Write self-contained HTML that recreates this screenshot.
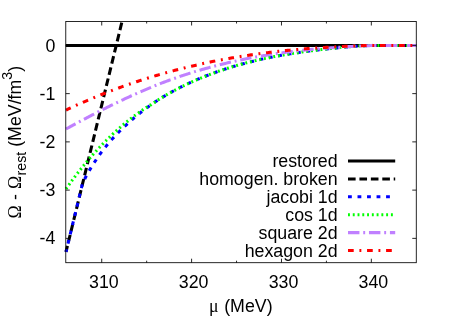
<!DOCTYPE html>
<html><head><meta charset="utf-8"><title>plot</title>
<style>
html,body{margin:0;padding:0;background:#fff;}
body{width:457px;height:320px;overflow:hidden;}
svg{display:block;will-change:transform;}
text{font-family:"Liberation Sans",sans-serif;font-size:17.78px;fill:#000;font-kerning:none;}
.sym{font-family:"Liberation Serif",serif;}
</style></head><body>
<svg width="457" height="320" viewBox="0 0 457 320">
<rect width="457" height="320" fill="#fff"/>
<defs><clipPath id="c"><rect x="65.78" y="21.5" width="350.5" height="241.2"/></clipPath></defs>
<g fill="none" stroke-width="3.05" stroke-linejoin="round">
<path d="M65.78,45.4 L416.28,45.4" stroke="#000" />
<path d="M66.00,251.87 L122.03,21.50" stroke="#000" stroke-dasharray="7.66,3.83" stroke-dashoffset="1.6"/>
<path d="M66.00,251.87 L82.50,183.40 L83.62,181.14 L84.73,178.94 L85.85,176.82 L86.97,174.76 L88.08,172.75 L89.20,170.79 L90.31,168.88 L91.43,167.02 L92.55,165.21 L93.66,163.44 L94.78,161.72 L95.90,160.04 L97.01,158.40 L98.13,156.80 L99.25,155.23 L100.36,153.70 L101.48,152.18 L102.59,150.69 L103.71,149.24 L104.83,147.81 L105.94,146.42 L107.06,145.05 L108.18,143.71 L109.29,142.40 L110.41,141.11 L111.53,139.84 L112.64,138.60 L113.76,137.38 L114.88,136.18 L115.99,134.99 L117.11,133.83 L118.22,132.68 L119.34,131.55 L120.46,130.43 L121.57,129.32 L122.69,128.23 L123.81,127.16 L124.92,126.09 L126.04,125.04 L127.16,124.01 L128.27,122.98 L129.39,121.97 L130.50,120.98 L131.62,119.99 L132.74,119.02 L133.85,118.06 L134.97,117.11 L136.09,116.18 L137.20,115.26 L138.32,114.35 L139.44,113.45 L140.55,112.56 L141.67,111.69 L142.78,110.82 L143.90,109.97 L145.02,109.13 L146.13,108.30 L147.25,107.48 L148.37,106.67 L149.48,105.87 L150.60,105.08 L151.72,104.30 L152.83,103.53 L153.95,102.78 L155.07,102.03 L156.18,101.29 L157.30,100.56 L158.41,99.84 L159.53,99.13 L160.65,98.43 L161.76,97.73 L162.88,97.05 L164.00,96.38 L165.11,95.71 L166.23,95.05 L167.35,94.40 L168.46,93.76 L169.58,93.13 L170.69,92.50 L171.81,91.88 L172.93,91.27 L174.04,90.67 L175.16,90.07 L176.28,89.48 L177.39,88.90 L178.51,88.32 L179.63,87.75 L180.74,87.19 L181.86,86.64 L182.97,86.09 L184.09,85.54 L185.21,85.00 L186.32,84.47 L187.44,83.95 L188.56,83.42 L189.67,82.91 L190.79,82.40 L191.91,81.89 L193.02,81.39 L194.14,80.90 L195.26,80.41 L196.37,79.93 L197.49,79.45 L198.60,78.97 L199.72,78.50 L200.84,78.04 L201.95,77.58 L203.07,77.12 L204.19,76.67 L205.30,76.23 L206.42,75.79 L207.54,75.35 L208.65,74.92 L209.77,74.50 L210.88,74.08 L212.00,73.66 L213.12,73.25 L214.23,72.84 L215.35,72.44 L216.47,72.04 L217.58,71.64 L218.70,71.25 L219.82,70.87 L220.93,70.49 L222.05,70.11 L223.16,69.74 L224.28,69.37 L225.40,69.00 L226.51,68.64 L227.63,68.29 L228.75,67.94 L229.86,67.59 L230.98,67.24 L232.10,66.90 L233.21,66.57 L234.33,66.24 L235.45,65.91 L236.56,65.58 L237.68,65.26 L238.79,64.95 L239.91,64.63 L241.03,64.32 L242.14,64.02 L243.26,63.72 L244.38,63.42 L245.49,63.12 L246.61,62.83 L247.73,62.54 L248.84,62.26 L249.96,61.98 L251.07,61.70 L252.19,61.42 L253.31,61.15 L254.42,60.89 L255.54,60.62 L256.66,60.36 L257.77,60.10 L258.89,59.85 L260.01,59.60 L261.12,59.35 L262.24,59.10 L263.35,58.86 L264.47,58.62 L265.59,58.38 L266.70,58.15 L267.82,57.92 L268.94,57.69 L270.05,57.46 L271.17,57.24 L272.29,57.02 L273.40,56.80 L274.52,56.59 L275.64,56.38 L276.75,56.17 L277.87,55.96 L278.98,55.75 L280.10,55.55 L281.22,55.35 L282.33,55.16 L283.45,54.96 L284.57,54.77 L285.68,54.58 L286.80,54.39 L287.92,54.20 L289.03,54.02 L290.15,53.84 L291.26,53.66 L292.38,53.48 L293.50,53.31 L294.61,53.14 L295.73,52.97 L296.85,52.80 L297.96,52.63 L299.08,52.46 L300.20,52.30 L301.31,52.14 L302.43,51.98 L303.54,51.82 L304.66,51.67 L305.78,51.51 L306.89,51.36 L308.01,51.21 L309.13,51.06 L310.24,50.91 L311.36,50.77 L312.48,50.62 L313.59,50.48 L314.71,50.34 L315.83,50.21 L316.94,50.07 L318.06,49.94 L319.17,49.80 L320.29,49.67 L321.41,49.55 L322.52,49.42 L323.64,49.29 L324.76,49.17 L325.87,49.05 L326.99,48.93 L328.11,48.81 L329.22,48.70 L330.34,48.59 L331.45,48.47 L332.57,48.36 L333.69,48.24 L334.80,48.13 L335.92,48.01 L337.04,47.90 L338.15,47.79 L339.27,47.68 L340.39,47.58 L341.50,47.47 L342.62,47.37 L343.73,47.27 L344.85,47.17 L345.97,47.08 L347.08,46.98 L348.20,46.89 L349.32,46.80 L350.43,46.71 L351.55,46.63 L352.67,46.54 L353.78,46.46 L354.90,46.38 L356.02,46.30 L357.13,46.22 L358.25,46.15 L359.36,46.07 L360.48,46.00 L361.60,45.93 L362.71,45.87 L363.83,45.80 L364.95,45.74 L366.06,45.68 L367.18,45.62 L368.30,45.56 L369.41,45.51 L370.53,45.45 L371.64,45.40 L372.76,45.40 L373.88,45.40 L374.99,45.40 L376.11,45.40 L377.23,45.40 L378.34,45.40 L379.46,45.40 L380.58,45.40 L381.69,45.40 L382.81,45.40 L383.92,45.40 L385.04,45.40 L386.16,45.40 L387.27,45.40 L388.39,45.40 L389.51,45.40 L390.62,45.40 L391.74,45.40 L392.86,45.40 L393.97,45.40 L395.09,45.40 L396.21,45.40 L397.32,45.40 L398.44,45.40 L399.55,45.40 L400.67,45.40 L401.79,45.40 L402.90,45.40 L404.02,45.40 L405.14,45.40 L406.25,45.40 L407.37,45.40 L408.49,45.40 L409.60,45.40 L410.72,45.40 L411.83,45.40 L412.95,45.40 L414.07,45.40 L415.18,45.40 L416.30,45.40" stroke="#0000ff" stroke-dasharray="3.81,5.71" stroke-dashoffset="1.0"/>
<path d="M66.00,188.89 L66.28,188.49 L66.56,188.10 L66.84,187.70 L67.12,187.30 L67.40,186.91 L67.69,186.51 L67.97,186.12 L68.25,185.73 L68.53,185.34 L68.81,184.95 L69.09,184.56 L69.37,184.17 L69.65,183.78 L69.93,183.39 L70.21,183.01 L70.49,182.62 L70.78,182.24 L71.06,181.86 L71.34,181.47 L71.62,181.09 L71.90,180.71 L72.18,180.33 L72.46,179.95 L72.74,179.57 L73.02,179.20 L73.30,178.82 L73.59,178.45 L73.87,178.07 L74.15,177.70 L74.43,177.32 L74.71,176.95 L74.99,176.58 L75.27,176.21 L75.55,175.84 L75.83,175.47 L76.11,175.11 L76.39,174.74 L76.68,174.37 L76.96,174.01 L77.24,173.64 L77.52,173.28 L77.80,172.92 L78.08,172.56 L78.36,172.20 L78.64,171.84 L78.92,171.48 L79.20,171.12 L79.48,170.76 L79.77,170.40 L80.05,170.05 L80.33,169.69 L80.61,169.34 L80.89,168.99 L81.17,168.63 L81.45,168.28 L81.73,167.93 L82.01,167.58 L82.29,167.23 L82.58,166.89 L82.86,166.54 L83.14,166.19 L83.42,165.85 L83.70,165.50 L83.98,165.16 L84.26,164.81 L84.54,164.47 L84.82,164.13 L85.10,163.79 L85.38,163.45 L85.67,163.11 L85.95,162.77 L86.23,162.44 L86.51,162.10 L86.79,161.76 L87.07,161.43 L87.35,161.09 L87.63,160.76 L87.91,160.43 L88.19,160.10 L88.47,159.77 L88.76,159.44 L89.04,159.11 L89.32,158.78 L89.60,158.45 L89.88,158.13 L90.16,157.80 L90.44,157.47 L90.72,157.15 L91.00,156.83 L91.28,156.50 L91.57,156.18 L91.85,155.86 L92.13,155.54 L92.41,155.22 L92.69,154.90 L92.97,154.58 L93.25,154.27 L93.53,153.95 L93.81,153.64 L94.09,153.32 L94.37,153.01 L94.66,152.69 L94.94,152.38 L95.22,152.07 L95.50,151.76 L95.78,151.45 L96.06,151.14 L96.34,150.83 L96.62,150.52 L96.90,150.22 L97.18,149.91 L97.46,149.61 L97.75,149.30 L98.03,149.00 L98.31,148.70 L98.59,148.39 L98.87,148.09 L99.15,147.79 L99.43,147.49 L99.71,147.19 L99.99,146.89 L100.27,146.60 L100.56,146.30 L100.84,146.00 L101.12,145.71 L101.40,145.42 L101.68,145.12 L101.96,144.83 L102.24,144.54 L102.52,144.25 L102.80,143.95 L103.08,143.67 L103.36,143.38 L103.65,143.09 L103.93,142.80 L104.21,142.51 L104.49,142.23 L104.77,141.94 L105.05,141.66 L105.33,141.37 L105.61,141.09 L105.89,140.81 L106.17,140.53 L106.45,140.25 L106.74,139.97 L107.02,139.69 L107.30,139.41 L107.58,139.13 L107.86,138.85 L108.14,138.58 L108.42,138.30 L108.70,138.03 L108.98,137.75 L109.26,137.48 L109.55,137.21 L109.83,136.94 L110.11,136.66 L110.39,136.39 L110.67,136.12 L110.95,135.85 L111.23,135.59 L111.51,135.32 L111.79,135.05 L112.07,134.79 L112.35,134.52 L112.64,134.26 L112.92,133.99 L113.20,133.73 L113.48,133.47 L113.76,133.21 L114.04,132.94 L114.32,132.68 L114.60,132.42 L114.88,132.17 L115.16,131.91 L115.44,131.65 L115.73,131.39 L116.01,131.14 L116.29,130.88 L116.57,130.63 L116.85,130.37 L117.13,130.12 L117.41,129.87 L117.69,129.62 L117.97,129.37 L118.25,129.12 L118.54,128.87 L118.82,128.62 L119.10,128.37 L119.38,128.12 L119.66,127.87 L119.94,127.63 L120.22,127.38 L120.50,127.14 L120.78,126.89 L121.06,126.65 L121.34,126.41 L121.63,126.17 L121.91,125.93 L122.19,125.68 L122.47,125.44 L122.75,125.21 L123.03,124.97 L123.31,124.73 L123.59,124.49 L123.87,124.26 L124.15,124.02 L124.43,123.78 L124.72,123.55 L125.00,123.32 L125.28,123.08 L125.56,122.85 L125.84,122.62 L126.12,122.39 L126.40,122.16 L126.68,121.93 L126.96,121.70 L127.24,121.47 L127.53,121.24 L127.81,121.02 L128.09,120.79 L128.37,120.56 L128.65,120.34 L128.93,120.11 L129.21,119.89 L129.49,119.67 L129.77,119.45 L130.05,119.22 L130.33,119.00 L130.62,118.78 L130.90,118.56 L131.18,118.34 L131.46,118.12 L131.74,117.91 L132.02,117.69 L132.30,117.47 L132.58,117.26 L132.86,117.04 L133.14,116.83 L133.42,116.61 L133.71,116.40 L133.99,116.19 L134.27,115.98 L134.55,115.76 L134.83,115.55 L135.11,115.34 L135.39,115.13 L135.67,114.93 L135.95,114.72 L136.23,114.51 L136.52,114.30 L136.80,114.10 L137.08,113.89 L137.36,113.69 L137.64,113.48 L137.92,113.28 L138.20,113.08 L138.48,112.87 L138.76,112.67 L139.04,112.47 L139.32,112.27 L139.61,112.07 L139.89,111.87 L140.17,111.67 L140.45,111.47 L140.73,111.28 L141.01,111.08 L141.29,110.88 L141.57,110.69 L141.85,110.49 L142.13,110.30 L142.41,110.10 L142.70,109.91 L142.98,109.72 L143.26,109.53 L143.54,109.34 L143.82,109.14 L144.10,108.95 L144.38,108.76 L144.66,108.58 L144.94,108.39 L145.22,108.20 L145.51,108.01 L145.79,107.83 L146.07,107.64 L146.35,107.45 L146.63,107.27 L146.91,107.09 L147.19,106.90 L147.47,106.72 L147.75,106.54 L148.03,106.36 L148.31,106.17 L148.60,105.99 L148.88,105.81 L149.16,105.63 L149.44,105.46 L149.72,105.28 L150.00,105.10 L150.60,105.08 L151.72,104.30 L152.83,103.53 L153.95,102.78 L155.07,102.03 L156.18,101.29 L157.30,100.56 L158.41,99.84 L159.53,99.13 L160.65,98.43 L161.76,97.73 L162.88,97.05 L164.00,96.38 L165.11,95.71 L166.23,95.05 L167.35,94.40 L168.46,93.76 L169.58,93.13 L170.69,92.50 L171.81,91.88 L172.93,91.27 L174.04,90.67 L175.16,90.07 L176.28,89.48 L177.39,88.90 L178.51,88.32 L179.63,87.75 L180.74,87.19 L181.86,86.64 L182.97,86.09 L184.09,85.54 L185.21,85.00 L186.32,84.47 L187.44,83.95 L188.56,83.42 L189.67,82.91 L190.79,82.40 L191.91,81.89 L193.02,81.39 L194.14,80.90 L195.26,80.41 L196.37,79.93 L197.49,79.45 L198.60,78.97 L199.72,78.50 L200.84,78.04 L201.95,77.58 L203.07,77.12 L204.19,76.67 L205.30,76.23 L206.42,75.79 L207.54,75.35 L208.65,74.92 L209.77,74.50 L210.88,74.08 L212.00,73.66 L213.12,73.25 L214.23,72.84 L215.35,72.44 L216.47,72.04 L217.58,71.64 L218.70,71.25 L219.82,70.87 L220.93,70.49 L222.05,70.11 L223.16,69.74 L224.28,69.37 L225.40,69.00 L226.51,68.64 L227.63,68.29 L228.75,67.94 L229.86,67.59 L230.98,67.24 L232.10,66.90 L233.21,66.57 L234.33,66.24 L235.45,65.91 L236.56,65.58 L237.68,65.26 L238.79,64.95 L239.91,64.63 L241.03,64.32 L242.14,64.02 L243.26,63.72 L244.38,63.42 L245.49,63.12 L246.61,62.83 L247.73,62.54 L248.84,62.26 L249.96,61.98 L251.07,61.70 L252.19,61.42 L253.31,61.15 L254.42,60.89 L255.54,60.62 L256.66,60.36 L257.77,60.10 L258.89,59.85 L260.01,59.60 L261.12,59.35 L262.24,59.10 L263.35,58.86 L264.47,58.62 L265.59,58.38 L266.70,58.15 L267.82,57.92 L268.94,57.69 L270.05,57.46 L271.17,57.24 L272.29,57.02 L273.40,56.80 L274.52,56.59 L275.64,56.38 L276.75,56.17 L277.87,55.96 L278.98,55.75 L280.10,55.55 L281.22,55.35 L282.33,55.16 L283.45,54.96 L284.57,54.77 L285.68,54.58 L286.80,54.39 L287.92,54.20 L289.03,54.02 L290.15,53.84 L291.26,53.66 L292.38,53.48 L293.50,53.31 L294.61,53.14 L295.73,52.97 L296.85,52.80 L297.96,52.63 L299.08,52.46 L300.20,52.30 L301.31,52.14 L302.43,51.98 L303.54,51.82 L304.66,51.67 L305.78,51.51 L306.89,51.36 L308.01,51.21 L309.13,51.06 L310.24,50.91 L311.36,50.77 L312.48,50.62 L313.59,50.48 L314.71,50.34 L315.83,50.21 L316.94,50.07 L318.06,49.94 L319.17,49.80 L320.29,49.67 L321.41,49.55 L322.52,49.42 L323.64,49.29 L324.76,49.17 L325.87,49.05 L326.99,48.93 L328.11,48.81 L329.22,48.70 L330.34,48.59 L331.45,48.47 L332.57,48.36 L333.69,48.24 L334.80,48.13 L335.92,48.01 L337.04,47.90 L338.15,47.79 L339.27,47.68 L340.39,47.58 L341.50,47.47 L342.62,47.37 L343.73,47.27 L344.85,47.17 L345.97,47.08 L347.08,46.98 L348.20,46.89 L349.32,46.80 L350.43,46.71 L351.55,46.63 L352.67,46.54 L353.78,46.46 L354.90,46.38 L356.02,46.30 L357.13,46.22 L358.25,46.15 L359.36,46.07 L360.48,46.00 L361.60,45.93 L362.71,45.87 L363.83,45.80 L364.95,45.74 L366.06,45.68 L367.18,45.62 L368.30,45.56 L369.41,45.51 L370.53,45.45 L371.64,45.40 L372.76,45.40 L373.88,45.40 L374.99,45.40 L376.11,45.40 L377.23,45.40 L378.34,45.40 L379.46,45.40 L380.58,45.40 L381.69,45.40 L382.81,45.40 L383.92,45.40 L385.04,45.40 L386.16,45.40 L387.27,45.40 L388.39,45.40 L389.51,45.40 L390.62,45.40 L391.74,45.40 L392.86,45.40 L393.97,45.40 L395.09,45.40 L396.21,45.40 L397.32,45.40 L398.44,45.40 L399.55,45.40 L400.67,45.40 L401.79,45.40 L402.90,45.40 L404.02,45.40 L405.14,45.40 L406.25,45.40 L407.37,45.40 L408.49,45.40 L409.60,45.40 L410.72,45.40 L411.83,45.40 L412.95,45.40 L414.07,45.40 L415.18,45.40 L416.30,45.40" stroke="#00ff00" stroke-dasharray="1.91,2.86"/>
<path d="M66.00,129.02 L67.17,128.38 L68.34,127.73 L69.51,127.09 L70.69,126.45 L71.86,125.82 L73.03,125.18 L74.20,124.54 L75.37,123.91 L76.54,123.28 L77.72,122.65 L78.89,122.02 L80.06,121.39 L81.23,120.77 L82.40,120.14 L83.57,119.52 L84.75,118.90 L85.92,118.28 L87.09,117.66 L88.26,117.04 L89.43,116.43 L90.60,115.82 L91.77,115.21 L92.95,114.60 L94.12,113.99 L95.29,113.39 L96.46,112.78 L97.63,112.18 L98.80,111.58 L99.98,110.99 L101.15,110.39 L102.32,109.80 L103.49,109.21 L104.66,108.62 L105.83,108.03 L107.01,107.45 L108.18,106.87 L109.35,106.29 L110.52,105.71 L111.69,105.13 L112.86,104.56 L114.03,103.99 L115.21,103.42 L116.38,102.85 L117.55,102.29 L118.72,101.73 L119.89,101.17 L121.06,100.61 L122.24,100.06 L123.41,99.51 L124.58,98.96 L125.75,98.41 L126.92,97.87 L128.09,97.33 L129.26,96.79 L130.44,96.26 L131.61,95.72 L132.78,95.19 L133.95,94.67 L135.12,94.14 L136.29,93.62 L137.47,93.10 L138.64,92.59 L139.81,92.07 L140.98,91.56 L142.15,91.06 L143.32,90.55 L144.50,90.05 L145.67,89.56 L146.84,89.06 L148.01,88.57 L149.18,88.08 L150.35,87.60 L151.52,87.11 L152.70,86.64 L153.87,86.16 L155.04,85.69 L156.21,85.22 L157.38,84.75 L158.55,84.29 L159.73,83.83 L160.90,83.38 L162.07,82.93 L163.24,82.48 L164.41,82.03 L165.58,81.59 L166.76,81.15 L167.93,80.72 L169.10,80.29 L170.27,79.86 L171.44,79.44 L172.61,79.02 L173.78,78.60 L174.96,78.19 L176.13,77.78 L177.30,77.37 L178.47,76.96 L179.64,76.56 L180.81,76.17 L181.99,75.77 L183.16,75.38 L184.33,75.00 L185.50,74.61 L186.67,74.23 L187.84,73.86 L189.02,73.48 L190.19,73.11 L191.36,72.75 L192.53,72.38 L193.70,72.02 L194.87,71.66 L196.04,71.31 L197.22,70.96 L198.39,70.61 L199.56,70.26 L200.73,69.92 L201.90,69.58 L203.07,69.24 L204.25,68.91 L205.42,68.58 L206.59,68.25 L207.76,67.93 L208.93,67.61 L210.10,67.29 L211.27,66.97 L212.45,66.66 L213.62,66.35 L214.79,66.05 L215.96,65.74 L217.13,65.44 L218.30,65.14 L219.48,64.85 L220.65,64.55 L221.82,64.26 L222.99,63.98 L224.16,63.69 L225.33,63.41 L226.51,63.13 L227.68,62.86 L228.85,62.58 L230.02,62.31 L231.19,62.04 L232.36,61.78 L233.53,61.52 L234.71,61.26 L235.88,61.00 L237.05,60.74 L238.22,60.49 L239.39,60.24 L240.56,59.99 L241.74,59.75 L242.91,59.51 L244.08,59.27 L245.25,59.03 L246.42,58.80 L247.59,58.57 L248.77,58.34 L249.94,58.11 L251.11,57.89 L252.28,57.66 L253.45,57.44 L254.62,57.23 L255.79,57.01 L256.97,56.80 L258.14,56.59 L259.31,56.38 L260.48,56.18 L261.65,55.98 L262.82,55.78 L264.00,55.58 L265.17,55.38 L266.34,55.19 L267.51,55.00 L268.68,54.81 L269.85,54.62 L271.03,54.44 L272.20,54.26 L273.37,54.08 L274.54,53.90 L275.71,53.73 L276.88,53.55 L278.05,53.38 L279.23,53.22 L280.40,53.05 L281.57,52.89 L282.74,52.72 L283.91,52.56 L285.08,52.41 L286.26,52.25 L287.43,52.10 L288.60,51.95 L289.77,51.80 L290.94,51.65 L292.11,51.51 L293.28,51.36 L294.46,51.22 L295.63,51.09 L296.80,50.95 L297.97,50.81 L299.14,50.68 L300.31,50.55 L301.49,50.42 L302.66,50.30 L303.83,50.17 L305.00,50.05 L306.17,49.93 L307.34,49.81 L308.52,49.69 L309.69,49.58 L310.86,49.46 L312.03,49.35 L313.20,49.24 L314.37,49.14 L315.54,49.03 L316.72,48.93 L317.89,48.82 L319.06,48.72 L320.23,48.63 L321.40,48.53 L322.57,48.44 L323.75,48.34 L324.92,48.25 L326.09,48.16 L327.26,48.07 L328.43,47.99 L329.60,47.90 L330.78,47.82 L331.95,47.74 L333.12,47.65 L334.29,47.56 L335.46,47.48 L336.63,47.39 L337.80,47.31 L338.98,47.23 L340.15,47.15 L341.32,47.07 L342.49,46.99 L343.66,46.92 L344.83,46.85 L346.01,46.77 L347.18,46.70 L348.35,46.63 L349.52,46.57 L350.69,46.50 L351.86,46.44 L353.04,46.37 L354.21,46.31 L355.38,46.25 L356.55,46.20 L357.72,46.14 L358.89,46.08 L360.06,46.03 L361.24,45.98 L362.41,45.92 L363.58,45.87 L364.75,45.83 L365.92,45.78 L367.09,45.73 L368.27,45.69 L369.44,45.65 L370.61,45.60 L371.78,45.56 L372.95,45.40 L374.12,45.40 L375.29,45.40 L376.47,45.40 L377.64,45.40 L378.81,45.40 L379.98,45.40 L381.15,45.40 L382.32,45.40 L383.50,45.40 L384.67,45.40 L385.84,45.40 L387.01,45.40 L388.18,45.40 L389.35,45.40 L390.53,45.40 L391.70,45.40 L392.87,45.40 L394.04,45.40 L395.21,45.40 L396.38,45.40 L397.55,45.40 L398.73,45.40 L399.90,45.40 L401.07,45.40 L402.24,45.40 L403.41,45.40 L404.58,45.40 L405.76,45.40 L406.93,45.40 L408.10,45.40 L409.27,45.40 L410.44,45.40 L411.61,45.40 L412.79,45.40 L413.96,45.40 L415.13,45.40 L416.30,45.40" stroke="#c080ff" stroke-dasharray="11.43,3.81,1.91,3.81" stroke-dashoffset="0.5"/>
<path d="M66.00,110.07 L67.17,109.52 L68.34,108.97 L69.51,108.42 L70.69,107.87 L71.86,107.33 L73.03,106.79 L74.20,106.25 L75.37,105.72 L76.54,105.19 L77.72,104.66 L78.89,104.13 L80.06,103.61 L81.23,103.09 L82.40,102.57 L83.57,102.06 L84.75,101.55 L85.92,101.04 L87.09,100.53 L88.26,100.03 L89.43,99.53 L90.60,99.04 L91.77,98.54 L92.95,98.05 L94.12,97.56 L95.29,97.08 L96.46,96.60 L97.63,96.12 L98.80,95.64 L99.98,95.17 L101.15,94.69 L102.32,94.23 L103.49,93.76 L104.66,93.30 L105.83,92.84 L107.01,92.38 L108.18,91.93 L109.35,91.47 L110.52,91.02 L111.69,90.58 L112.86,90.13 L114.03,89.69 L115.21,89.25 L116.38,88.82 L117.55,88.39 L118.72,87.96 L119.89,87.53 L121.06,87.10 L122.24,86.68 L123.41,86.26 L124.58,85.85 L125.75,85.43 L126.92,85.02 L128.09,84.61 L129.26,84.20 L130.44,83.80 L131.61,83.40 L132.78,83.00 L133.95,82.60 L135.12,82.21 L136.29,81.82 L137.47,81.43 L138.64,81.05 L139.81,80.66 L140.98,80.28 L142.15,79.90 L143.32,79.53 L144.50,79.16 L145.67,78.79 L146.84,78.42 L148.01,78.05 L149.18,77.69 L150.35,77.33 L151.52,76.97 L152.70,76.62 L153.87,76.26 L155.04,75.91 L156.21,75.56 L157.38,75.22 L158.55,74.88 L159.73,74.53 L160.90,74.20 L162.07,73.86 L163.24,73.53 L164.41,73.20 L165.58,72.87 L166.76,72.54 L167.93,72.22 L169.10,71.90 L170.27,71.58 L171.44,71.26 L172.61,70.95 L173.78,70.63 L174.96,70.32 L176.13,70.02 L177.30,69.71 L178.47,69.41 L179.64,69.11 L180.81,68.81 L181.99,68.51 L183.16,68.22 L184.33,67.93 L185.50,67.64 L186.67,67.35 L187.84,67.07 L189.02,66.79 L190.19,66.51 L191.36,66.23 L192.53,65.95 L193.70,65.68 L194.87,65.41 L196.04,65.14 L197.22,64.87 L198.39,64.61 L199.56,64.35 L200.73,64.09 L201.90,63.83 L203.07,63.57 L204.25,63.32 L205.42,63.07 L206.59,62.82 L207.76,62.57 L208.93,62.33 L210.10,62.08 L211.27,61.84 L212.45,61.60 L213.62,61.37 L214.79,61.13 L215.96,60.90 L217.13,60.67 L218.30,60.44 L219.48,60.22 L220.65,59.99 L221.82,59.77 L222.99,59.55 L224.16,59.33 L225.33,59.12 L226.51,58.90 L227.68,58.69 L228.85,58.48 L230.02,58.27 L231.19,58.07 L232.36,57.86 L233.53,57.66 L234.71,57.46 L235.88,57.26 L237.05,57.07 L238.22,56.87 L239.39,56.68 L240.56,56.49 L241.74,56.30 L242.91,56.12 L244.08,55.93 L245.25,55.75 L246.42,55.57 L247.59,55.39 L248.77,55.21 L249.94,55.04 L251.11,54.87 L252.28,54.69 L253.45,54.53 L254.62,54.36 L255.79,54.19 L256.97,54.03 L258.14,53.87 L259.31,53.71 L260.48,53.55 L261.65,53.39 L262.82,53.24 L264.00,53.08 L265.17,52.93 L266.34,52.78 L267.51,52.64 L268.68,52.49 L269.85,52.35 L271.03,52.20 L272.20,52.06 L273.37,51.92 L274.54,51.79 L275.71,51.65 L276.88,51.52 L278.05,51.39 L279.23,51.26 L280.40,51.13 L281.57,51.00 L282.74,50.88 L283.91,50.75 L285.08,50.63 L286.26,50.51 L287.43,50.39 L288.60,50.28 L289.77,50.16 L290.94,50.05 L292.11,49.94 L293.28,49.82 L294.46,49.72 L295.63,49.61 L296.80,49.50 L297.97,49.40 L299.14,49.30 L300.31,49.20 L301.49,49.10 L302.66,49.00 L303.83,48.90 L305.00,48.81 L306.17,48.72 L307.34,48.62 L308.52,48.53 L309.69,48.45 L310.86,48.36 L312.03,48.27 L313.20,48.19 L314.37,48.11 L315.54,48.03 L316.72,47.95 L317.89,47.87 L319.06,47.79 L320.23,47.72 L321.40,47.64 L322.57,47.57 L323.75,47.50 L324.92,47.43 L326.09,47.36 L327.26,47.30 L328.43,47.23 L329.60,47.17 L330.78,47.11 L331.95,47.04 L333.12,46.98 L334.29,46.91 L335.46,46.84 L336.63,46.77 L337.80,46.71 L338.98,46.65 L340.15,46.58 L341.32,46.52 L342.49,46.46 L343.66,46.41 L344.83,46.35 L346.01,46.30 L347.18,46.24 L348.35,46.19 L349.52,46.14 L350.69,46.09 L351.86,46.04 L353.04,45.99 L354.21,45.94 L355.38,45.90 L356.55,45.86 L357.72,45.81 L358.89,45.77 L360.06,45.73 L361.24,45.69 L362.41,45.65 L363.58,45.62 L364.75,45.58 L365.92,45.55 L367.09,45.51 L368.27,45.48 L369.44,45.45 L370.61,45.42 L371.78,45.39 L372.95,45.40 L374.12,45.40 L375.29,45.40 L376.47,45.40 L377.64,45.40 L378.81,45.40 L379.98,45.40 L381.15,45.40 L382.32,45.40 L383.50,45.40 L384.67,45.40 L385.84,45.40 L387.01,45.40 L388.18,45.40 L389.35,45.40 L390.53,45.40 L391.70,45.40 L392.87,45.40 L394.04,45.40 L395.21,45.40 L396.38,45.40 L397.55,45.40 L398.73,45.40 L399.90,45.40 L401.07,45.40 L402.24,45.40 L403.41,45.40 L404.58,45.40 L405.76,45.40 L406.93,45.40 L408.10,45.40 L409.27,45.40 L410.44,45.40 L411.61,45.40 L412.79,45.40 L413.96,45.40 L415.13,45.40 L416.30,45.40" stroke="#ff0000" stroke-dasharray="5.71,5.71,1.91,5.71" stroke-dashoffset="0.5"/>
</g>
<rect x="65.78" y="21.5" width="350.5" height="241.2" fill="none" stroke="#000" stroke-width="0.85"/>
<path d="M101.73,262.7 v-4.0 M101.73,21.5 v4.0 M146.66,262.7 v-2.0 M146.66,21.5 v2.0 M191.60,262.7 v-4.0 M191.60,21.5 v4.0 M236.54,262.7 v-2.0 M236.54,21.5 v2.0 M281.47,262.7 v-4.0 M281.47,21.5 v4.0 M326.41,262.7 v-2.0 M326.41,21.5 v2.0 M371.34,262.7 v-4.0 M371.34,21.5 v4.0 M65.78,238.36 h4.0 M416.28,238.36 h-4.0 M65.78,190.12 h4.0 M416.28,190.12 h-4.0 M65.78,141.88 h4.0 M416.28,141.88 h-4.0 M65.78,93.64 h4.0 M416.28,93.64 h-4.0 M65.78,45.40 h4.0 M416.28,45.40 h-4.0" stroke="#000" stroke-width="0.85" fill="none"/>
<text x="103.83" y="287.7" text-anchor="middle">310</text>
<text x="193.70" y="287.7" text-anchor="middle">320</text>
<text x="283.57" y="287.7" text-anchor="middle">330</text>
<text x="373.44" y="287.7" text-anchor="middle">340</text>
<text x="55.3" y="51.50" text-anchor="end">0</text>
<text x="55.3" y="99.74" text-anchor="end">-1</text>
<text x="55.3" y="147.98" text-anchor="end">-2</text>
<text x="55.3" y="196.22" text-anchor="end">-3</text>
<text x="55.3" y="244.46" text-anchor="end">-4</text>
<text x="337.6" y="167.10" text-anchor="end">restored</text>
<path d="M348,161.00 H395.2" stroke="#000" stroke-width="3.05" fill="none"/>
<text x="337.6" y="185.00" text-anchor="end">homogen. broken</text>
<path d="M348,178.90 H395.2" stroke="#000" stroke-width="3.05" fill="none" stroke-dasharray="7.62,3.81"/>
<text x="337.6" y="202.90" text-anchor="end">jacobi 1d</text>
<path d="M348,196.80 H395.2" stroke="#0000ff" stroke-width="3.05" fill="none" stroke-dasharray="3.81,5.71"/>
<text x="337.6" y="220.80" text-anchor="end">cos 1d</text>
<path d="M348,214.70 H395.2" stroke="#00ff00" stroke-width="3.05" fill="none" stroke-dasharray="1.91,2.86"/>
<text x="337.6" y="238.70" text-anchor="end">square 2d</text>
<path d="M348,232.60 H395.2" stroke="#c080ff" stroke-width="3.05" fill="none" stroke-dasharray="11.43,3.81,1.91,3.81"/>
<text x="337.6" y="256.60" text-anchor="end">hexagon 2d</text>
<path d="M348,250.50 H395.2" stroke="#ff0000" stroke-width="3.05" fill="none" stroke-dasharray="5.71,5.71,1.91,5.71"/>
<text x="240.8" y="312.3" text-anchor="middle"><tspan class="sym">μ</tspan><tspan dx="0.7"> (MeV)</tspan></text>
<text transform="translate(20.5,142.2) rotate(-90)" text-anchor="middle"><tspan class="sym">Ω</tspan><tspan dx="0.45"> - </tspan><tspan class="sym">Ω</tspan><tspan font-size="14.22" dx="0.45" dy="5.3">rest</tspan><tspan dy="-5.3"> (MeV/fm</tspan><tspan font-size="14.22" dy="-8.9">3</tspan><tspan dy="8.9">)</tspan></text>
</svg>
</body></html>
